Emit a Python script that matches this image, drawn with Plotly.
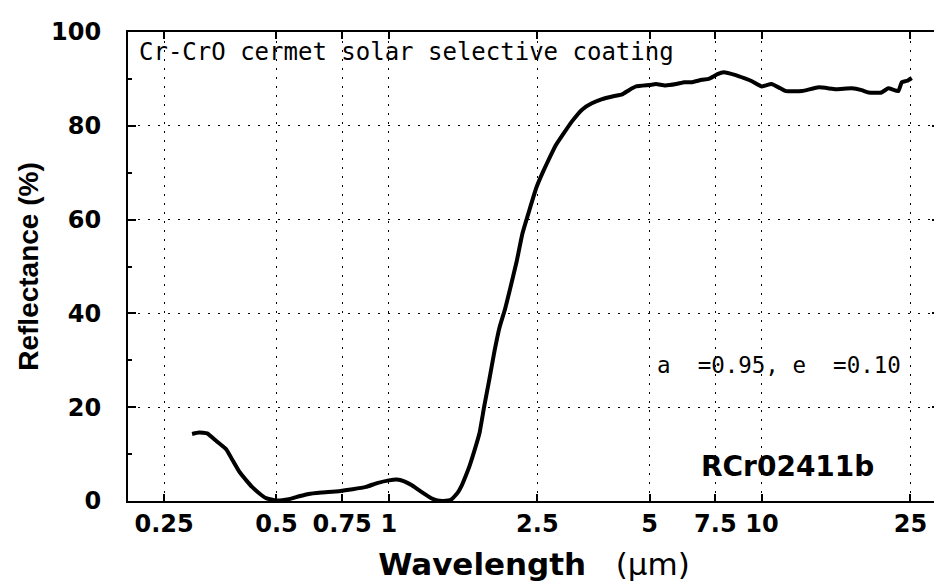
import math
import plotly.graph_objects as go

# ---- data ----
wavelength_um = [
    0.297, 0.31, 0.326, 0.345, 0.367, 0.38, 0.397, 0.415, 0.43, 0.45, 0.469,
    0.50, 0.54, 0.575, 0.61, 0.66, 0.735, 0.80, 0.868, 0.93, 1.0, 1.05, 1.10,
    1.15, 1.22, 1.30, 1.35, 1.40, 1.47, 1.53, 1.57, 1.61, 1.646, 1.70, 1.75,
    1.80, 1.86, 1.92, 1.98, 2.05, 2.11, 2.20, 2.28, 2.38, 2.49, 2.60, 2.69,
    2.80, 2.92, 3.10, 3.30, 3.50, 3.73, 4.00, 4.22, 4.40, 4.60, 5.00, 5.20,
    5.50, 5.89, 6.20, 6.50, 6.90, 7.20, 7.60, 7.90, 8.50, 9.00, 9.40, 10.0,
    10.6, 11.2, 11.6, 12.8, 14.2, 15.8, 17.4, 18.5, 19.3, 20.9, 21.8, 23.2,
    23.7, 24.5, 25.2,
]
reflectance_pct = [
    14.3, 14.6, 14.4, 12.8, 11.0, 8.9, 6.3, 4.4, 3.0, 1.6, 0.6,
    0.1, 0.4, 1.0, 1.5, 1.8, 2.1, 2.5, 3.0, 3.8, 4.4, 4.6, 4.2,
    3.4, 2.0, 0.6, 0.1, 0.0, 0.3, 1.8, 3.4, 5.5, 7.5, 11.0, 14.5,
    20.0, 26.0, 32.0, 37.0, 41.0, 45.0, 51.0, 57.0, 62.0, 67.0, 70.5, 73.0,
    75.8, 78.0, 81.0, 83.5, 84.8, 85.7, 86.3, 86.7, 87.6, 88.4, 88.7, 88.9,
    88.6, 88.9, 89.3, 89.3, 89.8, 90.0, 91.0, 91.4, 90.8, 90.1, 89.5, 88.4,
    88.9, 88.0, 87.4, 87.4, 88.2, 87.8, 88.0, 87.6, 87.1, 87.1, 88.0, 87.4,
    89.3, 89.6, 90.2,
]
x_tick_values = [0.25, 0.5, 0.75, 1, 2.5, 5, 7.5, 10, 25]
x_tick_labels = ["0.25", "0.5", "0.75", "1", "2.5", "5", "7.5", "10", "25"]
y_tick_values = [0, 20, 40, 60, 80, 100]
x_range = [0.2, 30]
y_range = [0, 100]

title_text = "Cr-CrO cermet solar selective coating"
property_text = "a  =0.95, e  =0.10"
sample_text = "RCr02411b"

fig = go.Figure()
fig.add_trace(go.Scatter(
    x=wavelength_um, y=reflectance_pct, mode="lines",
    line=dict(color="black", width=4, shape="spline", smoothing=0.4),
    showlegend=False, hoverinfo="x+y",
))

bold_tick_font = dict(family="DejaVu Sans", size=24, color="black", weight="bold")

# the page body adds an 8 px margin, so the figure is 8 px smaller than the window
fig.update_layout(
    width=934, height=580,
    margin=dict(l=120, r=0, t=24, b=87),
    paper_bgcolor="white", plot_bgcolor="white",
    showlegend=False,
    xaxis=dict(
        type="log",
        range=[math.log10(x_range[0]), math.log10(x_range[1])],
        tickmode="array", tickvals=x_tick_values, ticktext=x_tick_labels,
        tickangle=0,
        ticks="inside", ticklen=7, tickwidth=2, tickcolor="black",
        showline=True, linecolor="black", linewidth=2, mirror="ticks",
        showgrid=True, gridcolor="black", gridwidth=1, griddash="2px,7px",
        zeroline=False,
        tickfont=bold_tick_font,
        ticklabelstandoff=0,
        title=dict(
            text="<b>Wavelength</b>   (\u03bcm)",
            font=dict(family="DejaVu Sans", size=31, color="black"),
            standoff=17,
        ),
    ),
    yaxis=dict(
        range=y_range,
        tickmode="array", tickvals=y_tick_values,
        ticks="inside", ticklen=8, tickwidth=2, tickcolor="black",
        minor=dict(dtick=10, ticks="inside", ticklen=4, tickwidth=2,
                   tickcolor="black", showgrid=False),
        showline=True, linecolor="black", linewidth=2, mirror="ticks",
        showgrid=True, gridcolor="black", gridwidth=1, griddash="2px,8px",
        zeroline=False,
        tickfont=bold_tick_font,
        ticklabelstandoff=20,
        title=dict(
            text="Reflectance (%)",
            font=dict(family="Liberation Sans", size=28,
                      color="black", weight="bold"),
            standoff=4,
        ),
    ),
    annotations=[
        dict(text=title_text, xref="paper", yref="paper", x=0.011, y=0.957,
             xanchor="left", yanchor="middle", showarrow=False,
             font=dict(family="DejaVu Sans Mono", size=24, color="black")),
        dict(text=property_text, xref="paper", yref="paper", x=0.649, y=0.291,
             xanchor="left", yanchor="middle", showarrow=False,
             font=dict(family="DejaVu Sans Mono", size=22.5, color="black")),
        dict(text=sample_text, xref="paper", yref="paper", x=0.703, y=0.0725,
             xanchor="left", yanchor="middle", showarrow=False,
             font=dict(family="DejaVu Sans", size=28, color="black", weight="bold")),
    ],
)

fig.write_html("out.html")
